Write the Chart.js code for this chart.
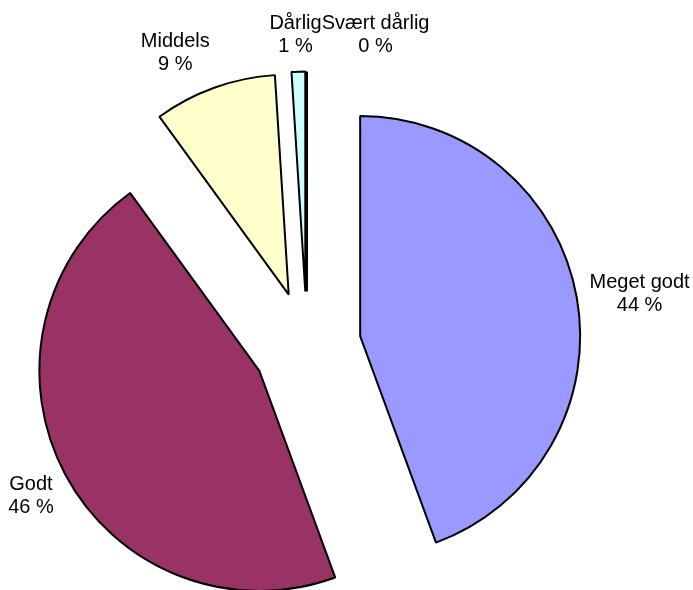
<!DOCTYPE html>
<html>
<head>
<meta charset="utf-8">
<script src="https://cdn.jsdelivr.net/npm/chart.js@4/dist/chart.umd.min.js"></script>
<style>
html,body{margin:0;padding:0;background:#fff;}
#wrap{width:693px;height:590px;position:relative;}
</style>
</head>
<body>
<div id="wrap"><canvas id="c" width="693" height="590"></canvas></div>
<script>
const categories = ['Meget godt', 'Godt', 'Middels', 'Dårlig', 'Svært dårlig'];
const values = [44.4, 45.6, 9, 1, 0];
const colors = ['#9999FF', '#993366', '#FFFFCC', '#CCFFFF', '#660066'];

const EXPLODE = 54;
const FONT = '20px "Liberation Sans", Arial, sans-serif';
const LINE_H = 23;

const Arc = Chart.registry.getElement('arc');
const origDraw = Arc.prototype.draw;
Arc.prototype.draw = function (ctx, area) {
  const mid = (this.startAngle + this.endAngle) / 2;
  ctx.save();
  ctx.translate(Math.cos(mid) * EXPLODE, Math.sin(mid) * EXPLODE);
  if (!this.circumference) {
    const o = this.options;
    ctx.beginPath();
    ctx.moveTo(this.x, this.y);
    ctx.lineTo(this.x + Math.cos(this.startAngle) * this.outerRadius,
               this.y + Math.sin(this.startAngle) * this.outerRadius);
    ctx.strokeStyle = o.borderColor;
    ctx.lineWidth = o.borderWidth;
    ctx.stroke();
  } else {
    origDraw.call(this, ctx, area);
  }
  ctx.restore();
};

const labelPlugin = {
  id: 'pieLabels',
  afterDatasetsDraw(chart) {
    const ctx = chart.ctx;
    const meta = chart.getDatasetMeta(0);
    const data = chart.data.datasets[0].data;
    const total = data.reduce((a, b) => a + b, 0);
    ctx.save();
    ctx.font = FONT;
    ctx.fillStyle = '#000';
    ctx.textAlign = 'center';
    ctx.textBaseline = 'middle';
    const boxes = [];
    meta.data.forEach((arc, i) => {
      const mid = (arc.startAngle + arc.endAngle) / 2;
      const dx = Math.cos(mid), dy = Math.sin(mid);
      const vx = arc.x + dx * EXPLODE, vy = arc.y + dy * EXPLODE;
      const line1 = chart.data.labels[i];
      const line2 = Math.round(data[i] / total * 100) + ' %';
      const w = Math.max(ctx.measureText(line1).width, ctx.measureText(line2).width);
      const h = LINE_H * 2;
      const gap = 13;
      let cx = vx + dx * (arc.outerRadius + gap) + (w / 2) * Math.max(-1, Math.min(1, dx * 3));
      let cy = vy + dy * (arc.outerRadius + gap + 4) + dy * h / 2 + 3;
      const prev = boxes[boxes.length - 1];
      if (prev) {
        const overlapX = Math.abs(cx - prev.cx) < (w + prev.w) / 2;
        const overlapY = Math.abs(cy - prev.cy) < (h + prev.h) / 2;
        if (overlapX && overlapY) cx = prev.cx + prev.w / 2 + w / 2;
      }
      boxes.push({cx, cy, w, h, line1, line2});
    });
    boxes.forEach(b => {
      ctx.fillText(b.line1, b.cx, b.cy - LINE_H / 2);
      ctx.fillText(b.line2, b.cx, b.cy + LINE_H / 2);
    });
    ctx.restore();
  }
};

new Chart(document.getElementById('c'), {
  type: 'pie',
  data: {
    labels: categories,
    datasets: [{
      data: values,
      backgroundColor: colors,
      borderColor: '#000',
      borderWidth: 2,
      radius: 220
    }]
  },
  options: {
    responsive: false,
    animation: false,
    layout: {padding: {left: 81, right: 160, top: 120.5, bottom: 19.5}},
    plugins: {legend: {display: false}, tooltip: {enabled: false}, title: {display: false}}
  },
  plugins: [labelPlugin]
});
</script>
</body>
</html>
